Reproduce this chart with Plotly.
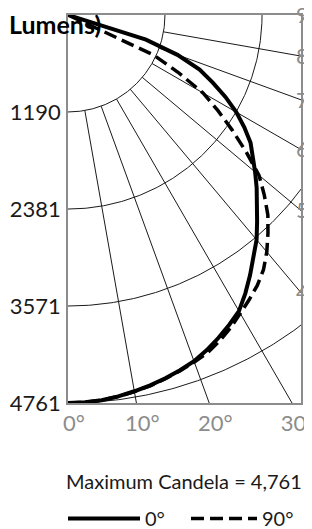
import numpy as np
import plotly.graph_objects as go

# ---- data ----
angles_deg = [0, 2.5, 5, 7.5, 10, 12.5, 15, 17.5, 20, 22.5, 25, 27.5, 30, 32.5, 35, 37.5,
              40, 42.5, 45, 47.5, 50, 52.5, 55, 57.5, 60, 62.5, 65, 67.5, 70, 72.5, 75,
              77.5, 80, 82.5, 85, 87.5, 90]
candela_0 = [4761, 4757, 4745, 4720, 4688, 4655, 4615, 4570, 4520, 4450, 4370, 4285, 4195,
             4050, 3895, 3745, 3600, 3435, 3285, 3140, 2997, 2858, 2735, 2565, 2384, 2178,
             1957, 1748, 1429, 1003, 150, 0, 0, 0, 0, 0, 0]
candela_90 = [4761, 4757, 4745, 4722, 4692, 4660, 4620, 4578, 4532, 4482, 4410, 4325, 4228,
              4140, 4050, 3940, 3795, 3632, 3468, 3266, 3060, 2752, 2457, 2179, 1913, 1522,
              1150, 100, 0, 0, 0, 0, 0, 0, 0, 0, 0]
series_names = ["0°", "90°"]
max_candela = 4761
ring_values = [1190, 2381, 3571, 4761]
ring_labels = ["1190", "2381", "3571", "4761"]
spoke_angles = [10, 20, 30, 40, 50, 60, 70, 80]
bottom_angles = [0, 10, 20, 30]
side_angles = [40, 50, 60, 70, 80, 90]

# ---- layout geometry (page body has an 8px margin) ----
OFF = 8
W, H = 312 - OFF, 529 - OFF
PL, PR, PT, PB = 68, 301, 15, 403          # plot box in window pixels
ML, MR, MT, MB = PL - OFF, W - (PR - OFF), PT - OFF, H - (PB - OFF)
plot_w = PR - PL
plot_h = PB - PT
x_max = max_candela * plot_w / plot_h

def px_to_paper(xp, yp):
    return (xp - PL) / plot_w, (PB - yp) / plot_h

def to_xy(vals, degs):
    t = np.radians(np.asarray(degs, dtype=float))
    v = np.asarray(vals, dtype=float)
    return v * np.sin(t), v * np.cos(t)

fig = go.Figure()
grid_col = "#1a1a1a"
arc = np.linspace(0, 90, 181)
for r in ring_values:
    gx, gy = to_xy(np.full(arc.size, r), arc)
    fig.add_trace(go.Scatter(x=gx, y=gy, mode="lines", line=dict(color=grid_col, width=1),
                             showlegend=False, hoverinfo="skip"))
for a in spoke_angles:
    gx, gy = to_xy([ring_values[0], 3 * max_candela], [a, a])
    fig.add_trace(go.Scatter(x=gx, y=gy, mode="lines", line=dict(color=grid_col, width=1),
                             showlegend=False, hoverinfo="skip"))

x0, y0 = to_xy(candela_0, angles_deg)
x90, y90 = to_xy(candela_90, angles_deg)
fig.add_trace(go.Scatter(x=x0, y=y0, mode="lines", name=series_names[0], legend="legend",
                         line=dict(color="black", width=4)))
fig.add_trace(go.Scatter(x=x90, y=y90, mode="lines", name=series_names[1], legend="legend2",
                         line=dict(color="black", width=3.5, dash="13px,6px")))
# anchor for the right-hand angle axis
fig.add_trace(go.Scatter(x=[0], y=[0], yaxis="y2", mode="markers", marker=dict(opacity=0),
                         showlegend=False, hoverinfo="skip"))

font_family = "Lato, 'Open Sans', sans-serif"
gray = "#8c8c8c"
frame = dict(showline=True, mirror=True, linecolor=gray, linewidth=1.5,
             showgrid=False, zeroline=False, ticks="", automargin=False,
             ticklabeloverflow="allow")

bottom_vals = [max_candela * np.tan(np.radians(a)) for a in bottom_angles]
side_vals = [x_max / np.tan(np.radians(a)) if a < 90 else 0 for a in side_angles]

lx, ly = px_to_paper(103, 24)
mx, my = px_to_paper(184, 481)

legend_common = dict(orientation="h", xref="container", yref="container",
                     xanchor="left", yanchor="top",
                     font=dict(size=20, color="#1a1a1a"), bgcolor="rgba(0,0,0,0)")

fig.update_layout(
    width=W, height=H,
    margin=dict(l=ML, r=MR, t=MT, b=MB, autoexpand=False),
    paper_bgcolor="white", plot_bgcolor="white",
    font=dict(family=font_family, color="#1a1a1a", size=22),
    xaxis=dict(range=[0, x_max], tickvals=bottom_vals,
               ticktext=[f"{a}°" for a in bottom_angles],
               tickfont=dict(color=gray, size=22), ticklabelshift=6, **frame),
    yaxis=dict(range=[max_candela, 0], tickvals=ring_values, ticktext=ring_labels,
               tickfont=dict(color="#1a1a1a", size=22), ticklabelstandoff=1, **frame),
    yaxis2=dict(range=[max_candela, 0], overlaying="y", side="right",
                tickvals=side_vals, ticktext=[f"{a}°" for a in side_angles],
                tickfont=dict(color=gray, size=22), showgrid=False, zeroline=False,
                showline=False, ticks="", automargin=False, ticklabelstandoff=-6,
                ticklabeloverflow="allow"),
    showlegend=True,
    legend=dict(x=(63 - OFF) / W, y=1 - (499 - OFF) / H, itemwidth=72, **legend_common),
    legend2=dict(x=(186 - OFF) / W, y=1 - (499 - OFF) / H, itemwidth=66, **legend_common),
    annotations=[
        dict(text="<b>Lumens)</b>", xref="paper", yref="paper", x=lx, y=ly,
             xanchor="right", yanchor="middle", showarrow=False,
             font=dict(size=25, color="black")),
        dict(text=f"Maximum Candela = {max_candela:,}", xref="paper", yref="paper",
             x=mx, y=my, xanchor="center", yanchor="middle", showarrow=False,
             font=dict(size=20, color="#1a1a1a")),
    ],
)

fig.write_html("out.html")
